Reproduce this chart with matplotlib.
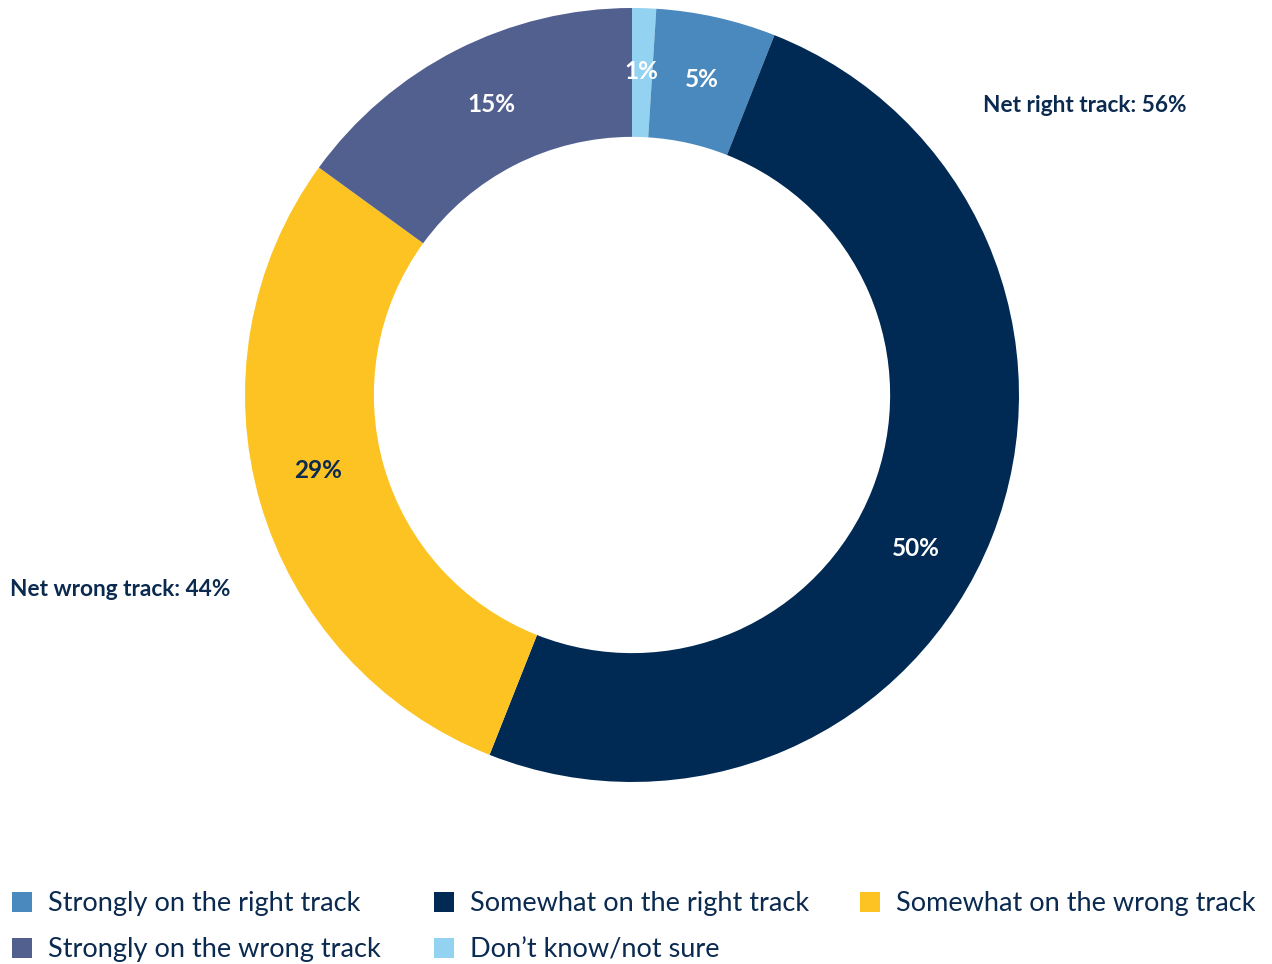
import numpy as np
import matplotlib.pyplot as plt
from matplotlib.patches import Rectangle

plt.rcParams["font.family"] = ["Lato", "DejaVu Sans"]

# survey shares, drawn clockwise from 12 o'clock
categories = [
    "Don\u2019t know/not sure",
    "Strongly on the right track",
    "Somewhat on the right track",
    "Somewhat on the wrong track",
    "Strongly on the wrong track",
]
shares = [1, 5, 50, 29, 15]
colors = ["#94D2F2", "#4A89BE", "#002A54", "#FCC322", "#52608F"]
label_colors = ["white", "white", "white", "#0B2A50", "white"]

net_labels = ["Net right track: 56%", "Net wrong track: 44%"]

# legend reading order (left to right, top to bottom)
legend_order = [1, 2, 3, 4, 0]

# small angular nudges (degrees) for the value labels
label_nudge = [0.2, 0.2, -6.8, -2.6, -1.2]

navy = "#0B2A50"
W, H = 1272, 964
fig = plt.figure(figsize=(W / 100, H / 100), dpi=100)

cx, cy, r = 632, 395, 387
ax = fig.add_axes([(cx - r) / W, (H - cy - r) / H, 2 * r / W, 2 * r / H])
wedges, _ = ax.pie(
    shares,
    colors=colors,
    startangle=90,
    counterclock=False,
    radius=1.0,
    wedgeprops=dict(width=0.333, linewidth=0),
)
ax.set_xlim(-1, 1)
ax.set_ylim(-1, 1)
ax.set_aspect("equal")
ax.axis("off")

# value labels sit in the middle of the ring
cum = 0
for val, tc, nudge in zip(shares, label_colors, label_nudge):
    mid = 90 - 360 * (cum + val / 2) / 100 + nudge
    cum += val
    rr = 0.835
    ax.text(rr * np.cos(np.radians(mid)), rr * np.sin(np.radians(mid)), f"{val}%",
            ha="center", va="center", fontsize=17.5, fontweight="bold", color=tc)

fig.text(983 / W, 1 - 106 / H, net_labels[0], ha="left", va="center",
         fontsize=16.3, fontweight="bold", color=navy)
fig.text(10 / W, 1 - 590 / H, net_labels[1], ha="left", va="center",
         fontsize=16.3, fontweight="bold", color=navy)

# legend laid out by hand in a 3-column grid
col_x = [12, 434, 860]
row_y = [902, 948]
for k, idx in enumerate(legend_order):
    x0 = col_x[k % 3]
    y0 = row_y[k // 3]
    fig.patches.append(Rectangle((x0 / W, 1 - (y0 + 10) / H), 20 / W, 20 / H,
                                 transform=fig.transFigure, facecolor=colors[idx],
                                 edgecolor="none"))
    fig.text((x0 + 36) / W, 1 - (y0 + 2) / H, categories[idx], ha="left", va="center",
             fontsize=19.5, color=navy)

fig.savefig("out.png", dpi=100)
